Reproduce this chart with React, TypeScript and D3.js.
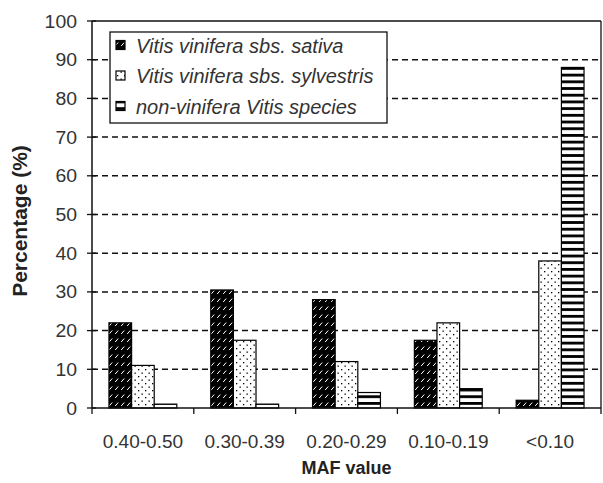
import React from "react";
import * as d3 from "d3";

const categories = ["0.40-0.50", "0.30-0.39", "0.20-0.29", "0.10-0.19", "<0.10"];
const seriesNames = [
  "Vitis vinifera sbs. sativa",
  "Vitis vinifera sbs. sylvestris",
  "non-vinifera Vitis species",
];
const sativa = [22, 30.5, 28, 17.5, 2];
const sylvestris = [11, 17.5, 12, 22, 38];
const nonVinifera = [1, 1, 4, 5, 88];
const yTicks = [0, 10, 20, 30, 40, 50, 60, 70, 80, 90, 100];

const W = 603;
const H = 483;
const M = { left: 92, right: 601, top: 21, bottom: 408 };
const fills = ["url(#patSativa)", "url(#patSylv)", "url(#patNon)"];

export default function App() {
  const series = [sativa, sylvestris, nonVinifera];
  const x = d3.scaleBand<string>().domain(categories).range([M.left, M.right]).padding(0);
  const y = d3.scaleLinear().domain([0, 100]).range([M.bottom, M.top]);
  const bw = x.bandwidth() / 4.5;
  const ink = "#111";
  const txt = "#333";

  return (
    <svg
      width={W}
      height={H}
      style={{ position: "absolute", left: 0, top: 0, background: "#fff" }}
      fontFamily="'Liberation Sans', Arial, sans-serif"
    >
      <defs>
        <pattern id="patSativa" width="6" height="8" patternUnits="userSpaceOnUse">
          <rect width="6" height="8" fill="#000" />
          <line x1="1.2" y1="6" x2="4.2" y2="2.5" stroke="#fff" strokeWidth="1" />
        </pattern>
        <pattern id="patSylv" width="7" height="7" patternUnits="userSpaceOnUse">
          <rect width="7" height="7" fill="#fff" />
          <rect x="1.5" y="1.5" width="1.3" height="1.3" fill="#000" />
          <rect x="5" y="5" width="1.3" height="1.3" fill="#000" />
        </pattern>
        <pattern id="patNon" width="6" height="6.7" patternUnits="userSpaceOnUse">
          <rect width="6" height="6.7" fill="#fff" />
          <rect y="0" width="6" height="2.8" fill="#000" />
        </pattern>
      </defs>

      {/* gridlines */}
      {yTicks
        .filter((t) => t > 0 && t < 100)
        .map((t) => (
          <line
            key={"g" + t}
            x1={M.left}
            x2={M.right}
            y1={y(t)}
            y2={y(t)}
            stroke={ink}
            strokeWidth={1.5}
            strokeDasharray="6,4"
          />
        ))}

      {/* frame */}
      <line x1={M.left} x2={M.right} y1={M.top} y2={M.top} stroke={ink} strokeWidth={1.3} />
      <line x1={M.right} x2={M.right} y1={M.top} y2={M.bottom} stroke={ink} strokeWidth={1.3} />

      {/* bars */}
      {categories.map((c, i) => {
        const x0 = (x(c) as number) + x.bandwidth() / 2 - 1.5 * bw;
        return series.map((s, j) => (
          <rect
            key={c + j}
            x={x0 + j * bw}
            y={y(s[i])}
            width={bw}
            height={y(0) - y(s[i])}
            fill={fills[j]}
            stroke="#000"
            strokeWidth={1.2}
          />
        ));
      })}

      {/* axes */}
      <line x1={M.left} x2={M.left} y1={M.top} y2={M.bottom} stroke={ink} strokeWidth={1.5} />
      <line x1={M.left} x2={M.right} y1={M.bottom} y2={M.bottom} stroke={ink} strokeWidth={1.5} />
      {yTicks.map((t) => (
        <g key={"yt" + t}>
          <line x1={M.left - 5} x2={M.left + 4} y1={y(t)} y2={y(t)} stroke={ink} strokeWidth={1.3} />
          <text
            transform={`translate(77,${y(t) + 6.5}) scale(1.05,1)`}
            textAnchor="end"
            fontSize={18.5}
            fill={txt}
          >
            {t}
          </text>
        </g>
      ))}
      {[...categories.map((c) => x(c) as number), M.right].map((v, i) => (
        <line key={"xt" + i} x1={v} x2={v} y1={M.bottom} y2={M.bottom + 6} stroke={ink} strokeWidth={1.3} />
      ))}
      {categories.map((c) => (
        <text
          key={"xl" + c}
          transform={`translate(${(x(c) as number) + x.bandwidth() / 2},${448})`}
          textAnchor="middle"
          fontSize={19}
          fill={txt}
        >
          {c}
        </text>
      ))}

      {/* axis titles */}
      <text
        transform={`translate(27,${221}) rotate(-90)`}
        textAnchor="middle"
        fontSize={21}
        fontWeight="bold"
        fill="#222"
      >
        Percentage (%)
      </text>
      <text
        transform={`translate(${(M.left + M.right) / 2},${474})`}
        textAnchor="middle"
        fontSize={18}
        fontWeight="bold"
        fill="#222"
      >
        MAF value
      </text>

      {/* legend */}
      <rect x={110} y={32} width={277} height={91} fill="#fff" stroke={ink} strokeWidth={1.3} />
      {seriesNames.map((n, j) => {
        const cy = 45 + j * 30.5;
        return (
          <g key={"lg" + j}>
            <rect x={116} y={cy - 4.5} width={9} height={9} fill={fills[j]} stroke="#000" strokeWidth={1.2} />
            <text x={136} y={cy + 7.5} fontSize={20} fontStyle="italic" fill={txt}>
              {n}
            </text>
          </g>
        );
      })}
    </svg>
  );
}
